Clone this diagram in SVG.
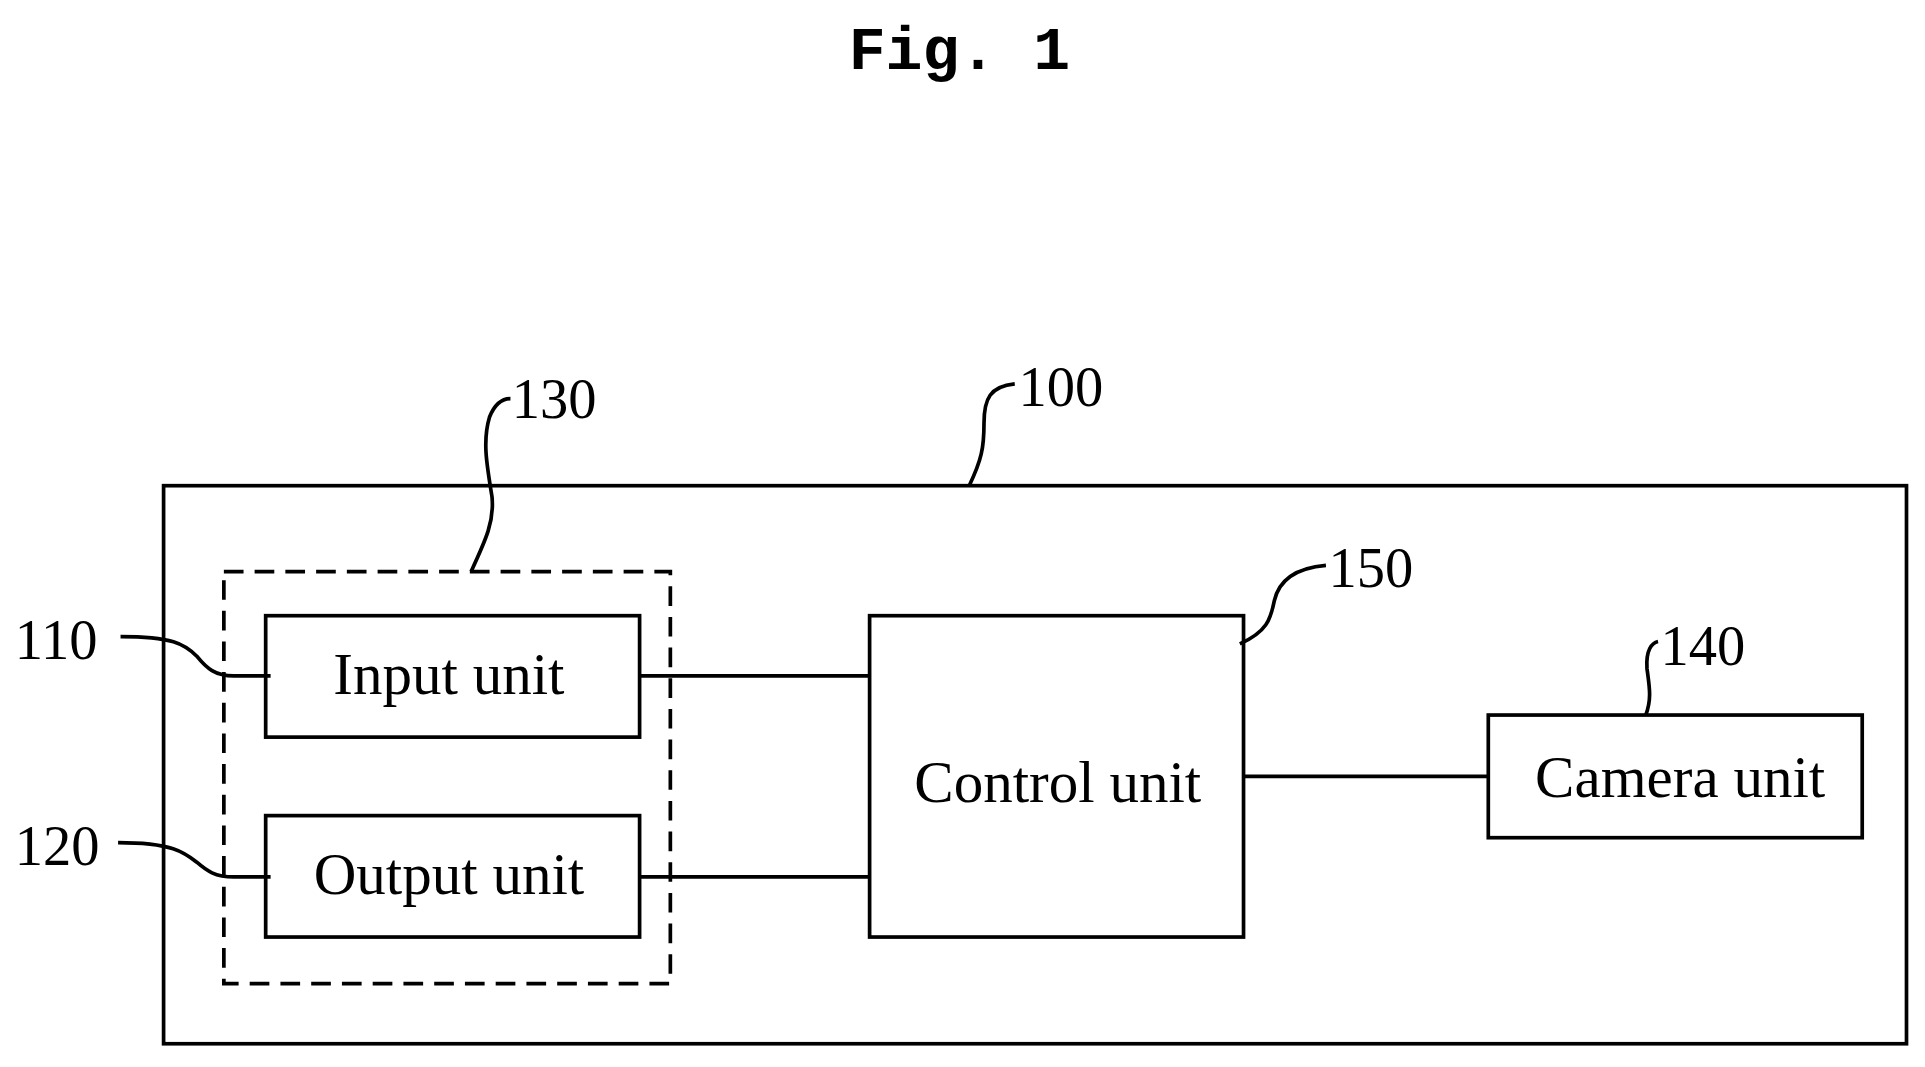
<svg xmlns="http://www.w3.org/2000/svg" width="1925" height="1067" viewBox="0 0 1925 1067">
<style>
.b{fill:none;stroke:#000;stroke-width:3}
.d{fill:none;stroke:#000;stroke-width:3;stroke-dasharray:16,9}
.t{font-family:"Liberation Serif",serif;font-size:48px;text-anchor:middle;fill:#000}
.l{font-family:"Liberation Serif",serif;font-size:46px;fill:#000}
</style>
<rect width="1925" height="1067" fill="#fff"/>
<g transform="scale(1.23,1.2265)">
<text x="780" y="56" font-family="Liberation Mono,monospace" font-weight="bold" font-size="50" text-anchor="middle">Fig. 1</text>
<g id="n100"><rect class="b" x="133" y="396" width="1417" height="455"/><text class="l" x="828" y="331">100</text></g>
<g id="n130"><rect class="d" x="182" y="466" width="363" height="336"/><text class="l" x="416" y="341">130</text></g>
<g id="n110"><rect class="b" x="216" y="502" width="304" height="99"/><text class="t" x="365" y="566">Input unit</text><text class="l" x="12" y="537">110</text></g>
<g id="n120"><rect class="b" x="216" y="665" width="304" height="99"/><text class="t" x="365" y="729">Output unit</text><text class="l" x="12" y="705">120</text></g>
<g id="n150"><rect class="b" x="707" y="502" width="304" height="262"/><text class="t" x="860" y="654">Control unit</text><text class="l" x="1080" y="479">150</text></g>
<g id="n140"><rect class="b" x="1210" y="583" width="304" height="100"/><text class="t" x="1366" y="650">Camera unit</text><text class="l" x="1350" y="542">140</text></g>
<g id="connectors">
<path class="b" d="M520 551H707M520 715H707M1011 633H1210"/>
<path class="b" d="M383 466C395 440 402 425 400 405C396 380 392 360 398 340C402 330 408 325 415 325"/>
<path class="b" d="M788 396C798 375 800 365 800 345C800 325 805 315 825 313"/>
<path class="b" d="M1008 525C1030 515 1033 505 1036 490C1040 472 1055 463 1078 461"/>
<path class="b" d="M1338 583C1343 570 1341 560 1339 545C1338 530 1343 524 1348 523"/>
<path class="b" d="M98 519C140 519 150 525 160 535C168 545 175 551 190 551H220"/>
<path class="b" d="M96 687C140 687 150 695 160 703C168 710 175 715 190 715H220"/>
</g>
</g>
</svg>
